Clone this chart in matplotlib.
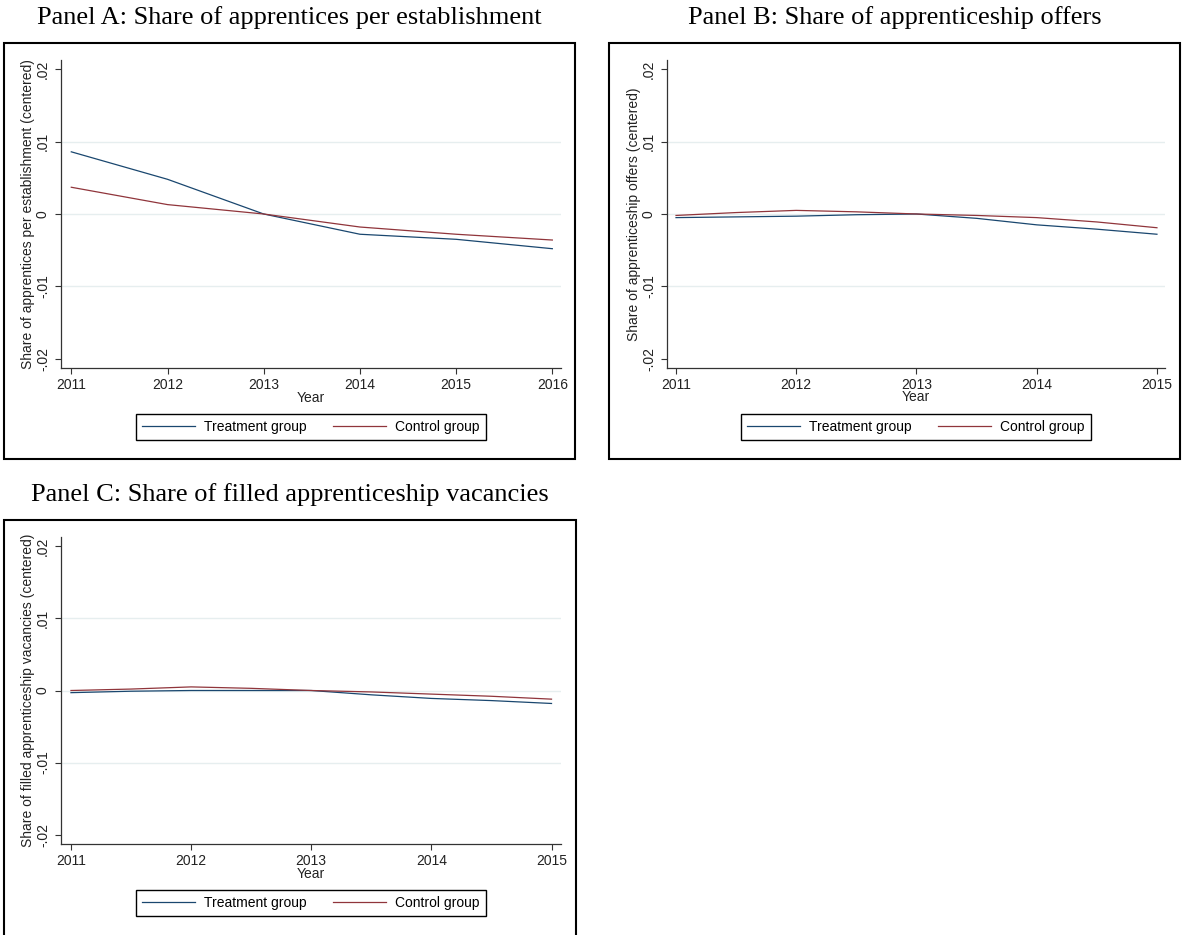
import matplotlib
matplotlib.use("Agg")
import matplotlib.pyplot as plt
from matplotlib.patches import Rectangle

# ── Data ─────────────────────────────────────────────────────────────────────

years_a = [2011, 2012, 2013, 2014, 2015, 2016]
treat_a = [0.0086, 0.0048, 0.0, -0.0028, -0.0035, -0.0048]
ctrl_a = [0.0037, 0.0013, 0.0, -0.0018, -0.0028, -0.0036]

years_bc = [2011, 2011.5, 2012, 2012.5, 2013, 2013.5, 2014, 2014.5, 2015]
treat_b = [-0.0005, -0.0004, -0.0003, -0.0001, 0.0, -0.0006, -0.0015, -0.0021, -0.0028]
ctrl_b = [-0.0002, 0.0002, 0.0005, 0.0003, 0.0, -0.0002, -0.0005, -0.0011, -0.0019]
treat_c = [-0.0003, -0.0001, 0.0, 0.0, 0.0, -0.0006, -0.0011, -0.0014, -0.0018]
ctrl_c = [0.0, 0.0002, 0.0005, 0.0003, 0.0, -0.0002, -0.0005, -0.0008, -0.0012]

yticks = [-0.02, -0.01, 0.0, 0.01, 0.02]
ytick_labels = ["-.02", "-.01", "0", ".01", ".02"]
gridticks = [-0.01, 0.0, 0.01]

titles = [
    "Panel A: Share of apprentices per establishment",
    "Panel B: Share of apprenticeship offers",
    "Panel C: Share of filled apprenticeship vacancies",
]
ylabels = [
    "Share of apprentices per establishment (centered)",
    "Share of apprenticeship offers (centered)",
    "Share of filled apprenticeship vacancies (centered)",
]
series_labels = ["Treatment group", "Control group"]

NAVY = "#1a476f"
MAROON = "#90353b"

W, H = 1182, 935
plt.rcParams["font.family"] = ["Liberation Sans", "DejaVu Sans"]

fig = plt.figure(figsize=(W / 100, H / 100), dpi=100)
fig.patch.set_facecolor("white")


def px_rect(x0, y0, x1, y1):
    """Convert pixel box (top-left origin) to figure fractions."""
    return [x0 / W, 1 - y1 / H, (x1 - x0) / W, (y1 - y0) / H]


def panel(axbox, frame, title, title_base, xs, treat, ctrl, xticks, xlim,
          ylabel, xlabel_off):
    ax = fig.add_axes(px_rect(*axbox))
    ax_w = axbox[2] - axbox[0]
    ax_h = axbox[3] - axbox[1]

    # outer graph-region frame
    fx0, fy0, fx1, fy1 = frame
    fig.add_artist(Rectangle((fx0 / W, 1 - fy1 / H), (fx1 - fx0) / W, (fy1 - fy0) / H,
                             transform=fig.transFigure, fill=False,
                             edgecolor="black", linewidth=1.5))
    fig.text(((fx0 + fx1) / 2) / W, 1 - title_base / H, title,
             family=["Liberation Serif", "DejaVu Serif"], fontsize=19,
             ha="center", va="baseline")

    for gy in gridticks:
        ax.axhline(gy, color="#e6eeef", linewidth=1.0, zorder=0)

    ax.plot(xs, treat, color=NAVY, linewidth=0.9, label=series_labels[0])
    ax.plot(xs, ctrl, color=MAROON, linewidth=0.9, label=series_labels[1])

    ax.set_xlim(*xlim)
    ax.set_ylim(-0.0213, 0.0213)
    ax.set_xticks(xticks)
    ax.set_xticklabels([str(x) for x in xticks], fontsize=10)
    ax.set_yticks(yticks)
    ax.set_yticklabels(ytick_labels, rotation=90, va="center", fontsize=10)

    for side in ["top", "right"]:
        ax.spines[side].set_visible(False)
    for side in ["left", "bottom"]:
        ax.spines[side].set_color("#333333")
        ax.spines[side].set_linewidth(0.9)
    ax.tick_params(axis="both", direction="out", length=4, width=0.8,
                   color="#333333", labelcolor="#222222")
    ax.tick_params(axis="y", pad=4)
    ax.tick_params(axis="x", pad=3)

    ax.set_ylabel(ylabel, fontsize=10, color="#222222")
    ax.yaxis.set_label_coords(-26 / ax_w, 0.5)
    ax.set_xlabel("Year", fontsize=10, color="#222222")
    ax.xaxis.set_label_coords(0.5, -xlabel_off / ax_h)

    leg = ax.legend(loc="center", bbox_to_anchor=(0.5, -59 / ax_h), ncol=2,
                    frameon=True, fancybox=False, edgecolor="black",
                    framealpha=1, fontsize=10, handlelength=3.8,
                    handletextpad=0.65, columnspacing=1.9, borderpad=0.45)
    leg.get_frame().set_linewidth(1.0)
    return ax


# ── Panels ───────────────────────────────────────────────────────────────────

panel((61, 60, 561, 368), (4, 43, 575, 459), titles[0], 24,
      years_a, treat_a, ctrl_a, years_a, (2010.893, 2016.09), ylabels[0], 23)

panel((667, 60, 1165, 368), (609, 43, 1180, 459), titles[1], 24,
      years_bc, treat_b, ctrl_b, [2011, 2012, 2013, 2014, 2015],
      (2010.925, 2015.067), ylabels[1], 22)

panel((61, 537, 561, 844), (4, 520, 576, 960), titles[2], 501,
      years_bc, treat_c, ctrl_c, [2011, 2012, 2013, 2014, 2015],
      (2010.917, 2015.079), ylabels[2], 23)

fig.savefig("out.png", dpi=100)
